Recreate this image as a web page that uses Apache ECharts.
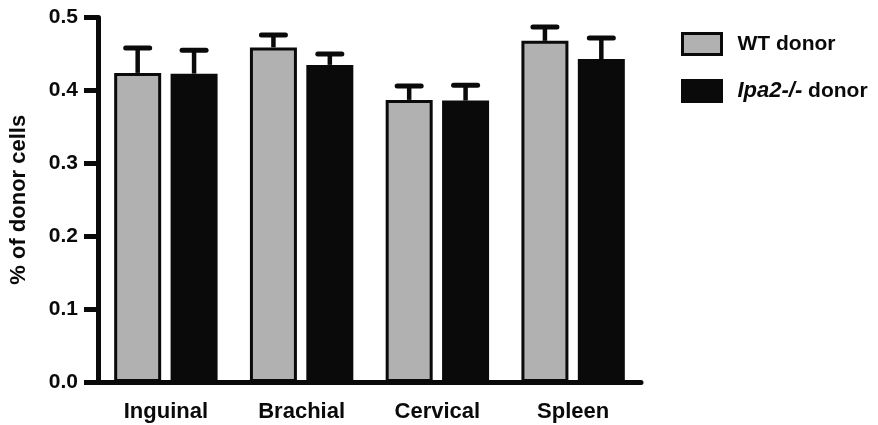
<!DOCTYPE html>
<html>
<head>
<meta charset="utf-8">
<script src="https://cdn.jsdelivr.net/npm/echarts@6/dist/echarts.min.js"></script>
<style>
  html, body { margin: 0; padding: 0; background: #ffffff; }
  #chart { width: 878px; height: 425px; }
</style>
</head>
<body>
<div id="chart"></div>
<script>
// Lymph node / spleen compartments
const categories = ['Inguinal', 'Brachial', 'Cervical', 'Spleen'];

// WT donor: mean and error (upper bar)
const wtMean = [0.424, 0.459, 0.387, 0.468];
const wtErr  = [0.034, 0.017, 0.019, 0.019];

// Ipa2-/- donor: mean and error (upper bar)
const koMean = [0.423, 0.435, 0.386, 0.443];
const koErr  = [0.032, 0.015, 0.021, 0.029];

const seriesNames = ['WT donor', 'Ipa2-/- donor'];

const FONT = '"Liberation Sans", Arial, Helvetica, sans-serif';
const INK = '#0a0a0a';
const GREY = '#b1b1b1';
const BAR_W = 47;
const BAR_GAP = 0.2;
// horizontal offset of each bar's centre from the category centre
const halfSpan = (BAR_W * 2 + BAR_W * BAR_GAP) / 2;
const offsets = [-halfSpan + BAR_W / 2, halfSpan - BAR_W / 2];

function errorSeries(means, errs, seriesIdx) {
  return {
    type: 'custom',
    z: 5,
    silent: true,
    data: means.map((m, i) => [i, m, errs[i]]),
    renderItem: function (params, api) {
      const i = api.value(0);
      const m = api.value(1);
      const e = api.value(2);
      const base = api.coord([i, m]);
      const top = api.coord([i, m + e]);
      const x = base[0] + offsets[seriesIdx];
      const capHalf = 12;
      const style = { stroke: INK, lineWidth: 5, lineCap: 'round' };
      return {
        type: 'group',
        children: [
          { type: 'line', shape: { x1: x, y1: base[1], x2: x, y2: top[1] }, style: { stroke: INK, lineWidth: 4.5 } },
          { type: 'line', shape: { x1: x - capHalf, y1: top[1], x2: x + capHalf, y2: top[1] }, style: style }
        ]
      };
    }
  };
}

const chart = echarts.init(document.getElementById('chart'), null, { renderer: 'canvas' });

chart.setOption({
  animation: false,
  backgroundColor: '#ffffff',
  grid: { left: 95, right: 237, top: 17.5, bottom: 43, containLabel: false },
  legend: {
    data: seriesNames,
    orient: 'vertical',
    left: 681,
    top: 32,
    padding: 0,
    itemWidth: 39,
    itemHeight: 21,
    itemGap: 23,
    icon: 'rect',
    itemStyle: { borderColor: INK, borderWidth: 3 },
    formatter: function (name) {
      return name === 'Ipa2-/- donor' ? '{i|Ipa2-/-} donor' : name;
    },
    textStyle: {
      fontFamily: FONT,
      fontWeight: 'bold',
      fontSize: 21,
      color: INK,
      padding: [0, 0, 0, 11],
      rich: {
        i: { fontFamily: FONT, fontWeight: 'bold', fontStyle: 'italic', fontSize: 22, color: INK }
      }
    }
  },
  xAxis: {
    type: 'category',
    data: categories,
    axisLine: { lineStyle: { color: INK, width: 5 } },
    axisTick: { alignWithLabel: true, length: 14, lineStyle: { color: INK, width: 5 } },
    axisLabel: {
      margin: 19,
      fontFamily: FONT,
      fontWeight: 'bold',
      fontSize: 22,
      color: INK
    }
  },
  yAxis: {
    type: 'value',
    min: 0,
    max: 0.5,
    interval: 0.1,
    name: '% of donor cells',
    nameLocation: 'middle',
    nameRotate: 90,
    nameGap: 68,
    nameTextStyle: { fontFamily: FONT, fontWeight: 'bold', fontSize: 22, color: INK },
    axisLine: { show: true, lineStyle: { color: INK, width: 5 } },
    axisTick: { show: true, length: 14, lineStyle: { color: INK, width: 5 } },
    splitLine: { show: false },
    axisLabel: {
      margin: 20,
      fontFamily: FONT,
      fontWeight: 'bold',
      fontSize: 21,
      color: INK,
      formatter: v => v.toFixed(1)
    }
  },
  series: [
    {
      name: seriesNames[0],
      type: 'bar',
      data: wtMean,
      barWidth: BAR_W,
      barGap: (BAR_GAP * 100) + '%',
      itemStyle: { color: GREY, borderColor: INK, borderWidth: 3 }
    },
    {
      name: seriesNames[1],
      type: 'bar',
      data: koMean,
      barWidth: BAR_W,
      itemStyle: { color: INK, borderColor: INK, borderWidth: 3 }
    },
    errorSeries(wtMean, wtErr, 0),
    errorSeries(koMean, koErr, 1)
  ]
});
</script>
</body>
</html>
